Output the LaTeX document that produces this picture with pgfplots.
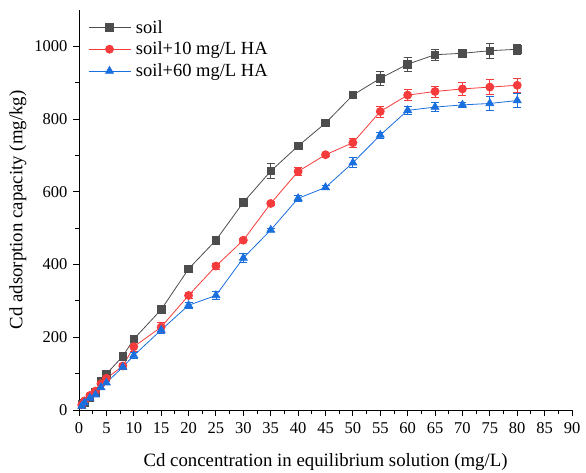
\documentclass[border=0pt]{standalone}
\usepackage{fontspec}
\setmainfont{Liberation Serif}
\usepackage{pgfplots}
\pgfplotsset{compat=1.18}
\usepackage{pgfplotstable}
\definecolor{cgray}{HTML}{4D4D4D}
\definecolor{cred}{HTML}{F53B3B}
\definecolor{cblue}{HTML}{1A6FDF}
\pgfplotstableread{
x y e
0.5 15 3
1 20 3
2 35 4
3 48 4
4 80 5
5 99 5
8 148 6
10 195 6
15 276 5
20 388 5
25 467 8
30 571 12
35 657 20
40 726 8
45 789 10
50 866 5
55 912 18
60 951 20
65 977 15
70 981 10
75 988 20
80 992 14
}\soil
\pgfplotstableread{
x y e
0.5 14 3
1 25 3
2 40 4
3 52 4
4 72 5
5 87 5
8 121 6
10 174 12
15 228 14
20 315 8
25 396 8
30 467 6
35 568 5
40 656 10
45 702 5
50 735 12
55 821 15
60 866 15
65 876 15
70 883 17
75 888 20
80 893 20
}\soilten
\pgfplotstableread{
x y e
0.5 11 3
1 20 3
2 33 4
3 42 4
4 62 5
5 75 5
8 118 6
10 150 8
15 220 8
20 288 8
25 315 12
30 418 12
35 495 5
40 582 8
45 612 5
50 680 14
55 756 8
60 824 12
65 833 12
70 839 6
75 843 20
80 851 20
}\soilsixty
\begin{document}
\begin{tikzpicture}
\begin{axis}[
  anchor=origin, at={(0pt,0pt)},
  scale only axis,
  width=493pt, height=400pt,
  xmin=0, xmax=90, ymin=0, ymax=1100,
  axis x line*=bottom, axis y line*=left,
  axis line style={-, line width=0.9pt},
  xtick={0,5,...,90}, ytick={0,200,...,1000},
  minor x tick num=1, minor y tick num=1,
  tick align=outside,
  major tick length=6pt, minor tick length=4pt,
  tick style={line width=0.9pt, black},
  xticklabel={\rmfamily\pgfmathprintnumber[assume math mode=true]{\tick}},
  yticklabel={\rmfamily\pgfmathprintnumber[assume math mode=true]{\tick}},
  /pgf/number format/1000 sep={},
  ticklabel style={font=\fontsize{16.5}{19}\selectfont},
  xticklabel style={yshift=-3pt},
  yticklabel style={xshift=-2pt},
  xlabel={Cd concentration in equilibrium solution (mg/L)},
  ylabel={Cd adsorption capacity (mg/kg)},
  label style={font=\fontsize{18.8}{22}\selectfont},
  xlabel style={at={(axis description cs:0.5,-0.13)}, anchor=center},
  ylabel style={at={(axis description cs:-0.124,0.5)}, anchor=center, rotate=0},
  legend style={at={(0.012,0.985)}, anchor=north west, draw=none, fill=none,
    font=\fontsize{18.5}{21}\selectfont, row sep=3.5pt,
    nodes={inner xsep=5pt}},
  legend cell align=left,
  legend image code/.code={\draw[mark repeat=2,mark phase=2] plot coordinates {(0pt,0pt)(21pt,0pt)(42pt,0pt)};},
  every axis plot/.append style={line width=0.8pt},
  error bars/error bar style={line width=0.8pt},
  error bars/error mark options={rotate=90, mark size=4pt, line width=0.8pt},
]
\addplot[color=cgray, mark=square*, mark size=3.8pt, mark options={fill=cgray},
  error bars/.cd, y dir=both, y explicit]
  table[x=x, y=y, y error=e]{\soil};
\addlegendentry{soil}
\addplot[color=cred, mark=*, mark size=4pt, mark options={fill=cred},
  error bars/.cd, y dir=both, y explicit]
  table[x=x, y=y, y error=e]{\soilten};
\addlegendentry{soil+10 mg/L HA}
\addplot[color=cblue, mark=triangle*, mark size=4.5pt, mark options={fill=cblue},
  error bars/.cd, y dir=both, y explicit]
  table[x=x, y=y, y error=e]{\soilsixty};
\addlegendentry{soil+60 mg/L HA}
\end{axis}
\pgfresetboundingbox
\useasboundingbox (-79pt,-62pt) rectangle (507pt,410pt);
\end{tikzpicture}
\end{document}
